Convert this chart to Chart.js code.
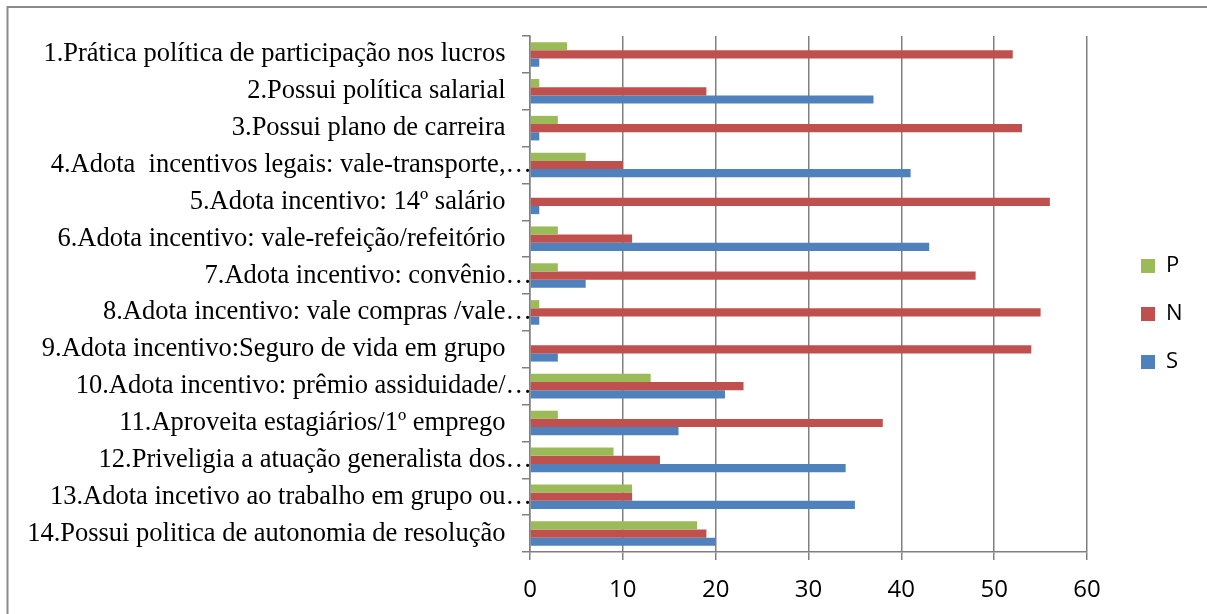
<!DOCTYPE html>
<html>
<head>
<meta charset="utf-8">
<script src="https://cdn.jsdelivr.net/npm/chart.js@4.4.1/dist/chart.umd.min.js"></script>
<style>
  html, body { margin: 0; padding: 0; background: #ffffff; }
  #wrap { width: 1207px; height: 614px; position: relative; }
</style>
</head>
<body>
<div id="wrap"><canvas id="c" width="1207" height="614"></canvas></div>
<script>
// Survey items (top to bottom)
const categories = [
  "1.Prática política de participação nos lucros",
  "2.Possui política salarial",
  "3.Possui plano de carreira",
  "4.Adota  incentivos legais: vale-transporte,…",
  "5.Adota incentivo: 14º salário",
  "6.Adota incentivo: vale-refeição/refeitório",
  "7.Adota incentivo: convênio…",
  "8.Adota incentivo: vale compras /vale…",
  "9.Adota incentivo:Seguro de vida em grupo",
  "10.Adota incentivo: prêmio assiduidade/…",
  "11.Aproveita estagiários/1º emprego",
  "12.Priveligia a atuação generalista dos…",
  "13.Adota incetivo ao trabalho em grupo ou…",
  "14.Possui politica de autonomia de resolução"
];

// Answer counts per item
const seriesNames = ["P", "N", "S"];
const valuesP = [4, 1, 3, 6, 0, 3, 3, 1, 0, 13, 3, 9, 11, 18];
const valuesN = [52, 19, 53, 10, 56, 11, 48, 55, 54, 23, 38, 14, 11, 19];
const valuesS = [1, 37, 1, 41, 1, 43, 6, 1, 3, 21, 16, 34, 35, 20];

// Value axis tick labels
const valueTicks = [0, 10, 20, 30, 40, 50, 60];

const colors = { P: "#9BBB59", N: "#C0504D", S: "#4F81BD" };
const gridColor = "#808080";

// White page with a grey frame on the top and left edges
const framePlugin = {
  id: "frame",
  beforeDraw(chart) {
    const ctx = chart.ctx;
    ctx.save();
    ctx.fillStyle = "#ffffff";
    ctx.fillRect(0, 0, chart.width, chart.height);
    ctx.strokeStyle = "#8a8a8a";
    ctx.lineWidth = 2;
    ctx.beginPath();
    ctx.moveTo(7.5, chart.height);
    ctx.lineTo(7.5, 7);
    ctx.lineTo(chart.width, 7);
    ctx.stroke();
    ctx.restore();
  }
};

// Fixed-width legend column, nudged into place beside the plot
const legendWidth = 120;
const legendOffset = { x: 28, y: -11 };
const legendPlacePlugin = {
  id: "legendPlace",
  beforeInit(chart) {
    const lg = chart.legend;
    if (!lg) return;
    const baseFit = lg.fit;
    lg.fit = function () {
      baseFit.call(this);
      this.width = legendWidth;
    };
  },
  afterLayout(chart) {
    const lg = chart.legend;
    if (!lg) return;
    lg.left += legendOffset.x; lg.right += legendOffset.x;
    lg.top += legendOffset.y; lg.bottom += legendOffset.y;
  }
};

const datasets = [
  { label: seriesNames[0], data: valuesP, backgroundColor: colors.P },
  { label: seriesNames[1], data: valuesN, backgroundColor: colors.N },
  { label: seriesNames[2], data: valuesS, backgroundColor: colors.S }
];

new Chart(document.getElementById("c"), {
  type: "bar",
  data: { labels: categories, datasets },
  plugins: [framePlugin, legendPlacePlugin],
  options: {
    indexAxis: "y",
    responsive: false,
    animation: false,
    events: [],
    categoryPercentage: 0.667,
    barPercentage: 1.0,
    layout: { padding: { left: 0, top: 36, right: 0, bottom: 0 } },
    plugins: {
      legend: {
        position: "right",
        align: "center",
        labels: {
          boxWidth: 14,
          boxHeight: 14,
          padding: 26,
          color: "#000000",
          font: { family: "'Open Sans', 'Liberation Sans', sans-serif", size: 22 }
        }
      },
      tooltip: { enabled: false }
    },
    scales: {
      x: {
        min: valueTicks[0],
        max: valueTicks[valueTicks.length - 1],
        afterFit(scale) { scale.height = 62; },
        afterBuildTicks(scale) { scale.ticks = valueTicks.map(v => ({ value: v })); },
        ticks: {
          color: "#000000",
          padding: 16,
          font: { family: "'Open Sans', 'Liberation Sans', sans-serif", size: 24 }
        },
        grid: { color: gridColor, lineWidth: 1.5, tickLength: 8, drawOnChartArea: true },
        border: { color: gridColor, width: 1.5 }
      },
      y: {
        afterFit(scale) { scale.width = 530; },
        ticks: {
          color: "#000000",
          padding: -10,
          autoSkip: false,
          font: { family: "'Liberation Serif', 'Times New Roman', serif", size: 26.5 },
          callback(value) {
            const label = this.getLabelForValue(value);
            return label.endsWith("…") ? label : label + "\u2003";
          }
        },
        grid: { color: gridColor, lineWidth: 1.5, tickLength: 8, drawOnChartArea: false, offset: true },
        border: { color: gridColor, width: 1.5 }
      }
    }
  }
});
</script>
</body>
</html>
